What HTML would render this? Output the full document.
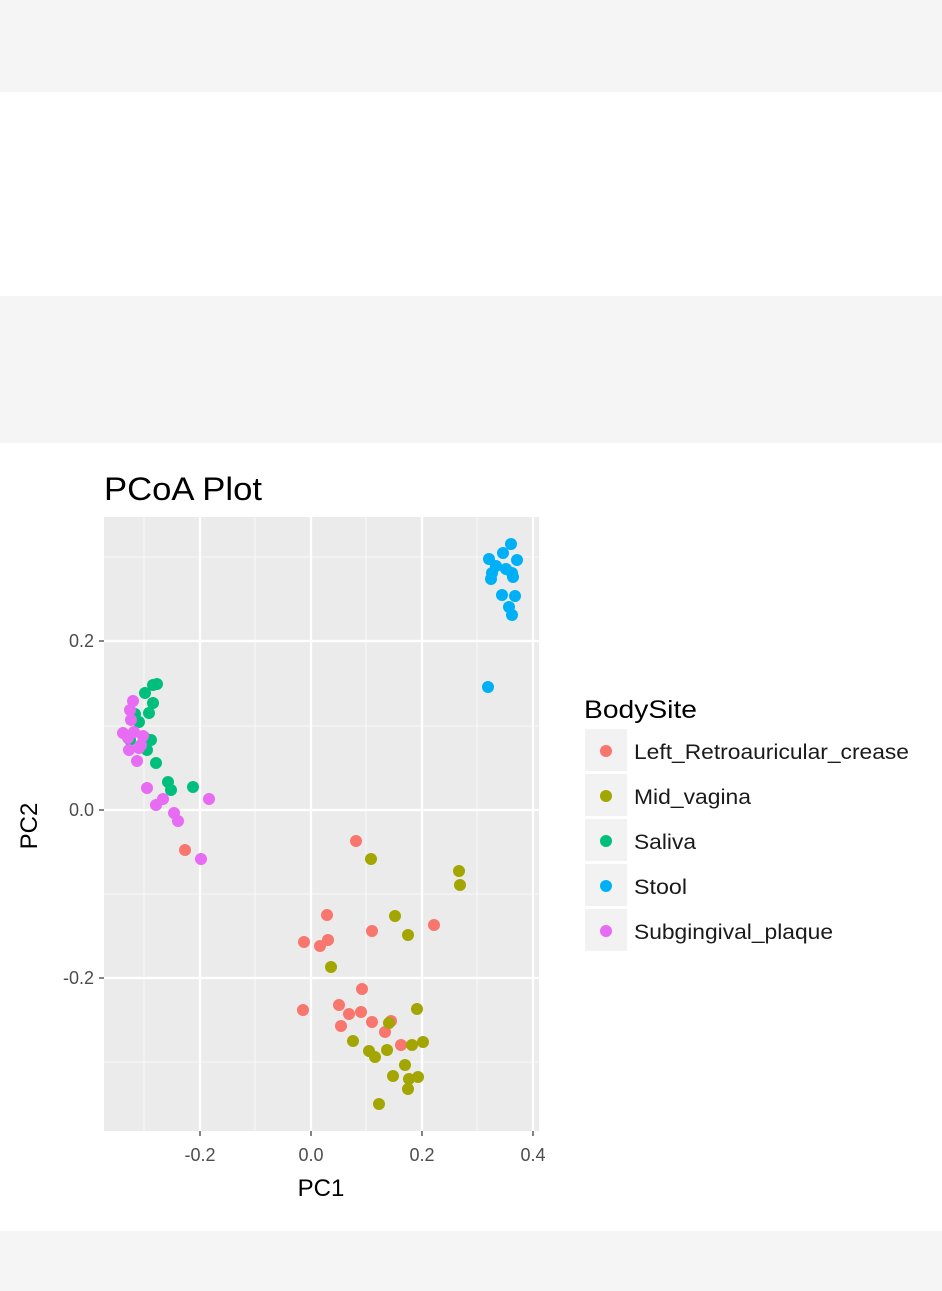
<!DOCTYPE html>
<html><head><meta charset="utf-8"><style>
html,body{margin:0;padding:0;background:#fff;}
svg{display:block;font-family:"Liberation Sans",Arial,sans-serif;}
</style></head><body>
<svg width="942" height="1291" viewBox="0 0 942 1291" xmlns="http://www.w3.org/2000/svg">
<rect x="0" y="0" width="942" height="92" fill="#f5f5f5"/>
<rect x="0" y="296" width="942" height="147" fill="#f5f5f5"/>
<rect x="0" y="1231" width="942" height="60" fill="#f5f5f5"/>
<text x="104" y="500" font-size="32" fill="#000" textLength="158" lengthAdjust="spacingAndGlyphs">PCoA Plot</text>
<rect x="104" y="517" width="435" height="614" fill="#ebebeb"/>
<g stroke="#f7f7f7" stroke-width="1.2">
<line x1="144" y1="517" x2="144" y2="1131"/><line x1="255" y1="517" x2="255" y2="1131"/>
<line x1="366" y1="517" x2="366" y2="1131"/><line x1="477" y1="517" x2="477" y2="1131"/>
<line x1="104" y1="557" x2="539" y2="557"/><line x1="104" y1="726" x2="539" y2="726"/>
<line x1="104" y1="894" x2="539" y2="894"/><line x1="104" y1="1062" x2="539" y2="1062"/>
</g>
<g stroke="#fff" stroke-width="2.3">
<line x1="200" y1="517" x2="200" y2="1131"/><line x1="311" y1="517" x2="311" y2="1131"/>
<line x1="422" y1="517" x2="422" y2="1131"/><line x1="533" y1="517" x2="533" y2="1131"/>
<line x1="104" y1="641" x2="539" y2="641"/><line x1="104" y1="810" x2="539" y2="810"/>
<line x1="104" y1="978" x2="539" y2="978"/>
</g>
<g stroke="#333" stroke-width="1.2">
<line x1="200" y1="1131" x2="200" y2="1136"/><line x1="311" y1="1131" x2="311" y2="1136"/>
<line x1="422" y1="1131" x2="422" y2="1136"/><line x1="533" y1="1131" x2="533" y2="1136"/>
<line x1="99" y1="641" x2="104" y2="641"/><line x1="99" y1="810" x2="104" y2="810"/><line x1="99" y1="978" x2="104" y2="978"/>
</g>
<g font-size="18" fill="#4d4d4d">
<text x="200" y="1161" text-anchor="middle">-0.2</text>
<text x="311" y="1161" text-anchor="middle">0.0</text>
<text x="422" y="1161" text-anchor="middle">0.2</text>
<text x="533" y="1161" text-anchor="middle">0.4</text>
<text x="94" y="647" text-anchor="end">0.2</text>
<text x="94" y="816" text-anchor="end">0.0</text>
<text x="94" y="984" text-anchor="end">-0.2</text>
</g>
<text x="321" y="1196" font-size="24" text-anchor="middle">PC1</text>
<text x="0" y="0" font-size="24" text-anchor="middle" transform="translate(37,826) rotate(-90)">PC2</text>
<g fill="#F8766D">
<circle cx="356" cy="841" r="6"/><circle cx="327" cy="915" r="6"/><circle cx="304" cy="942" r="6"/><circle cx="320" cy="946" r="6"/><circle cx="328" cy="940" r="6"/><circle cx="372" cy="931" r="6"/><circle cx="434" cy="925" r="6"/><circle cx="362" cy="989" r="6"/><circle cx="303" cy="1010" r="6"/><circle cx="339" cy="1005" r="6"/><circle cx="349" cy="1014" r="6"/><circle cx="361" cy="1012" r="6"/><circle cx="341" cy="1026" r="6"/><circle cx="372" cy="1022" r="6"/><circle cx="391" cy="1021" r="6"/><circle cx="385" cy="1032" r="6"/><circle cx="401" cy="1045" r="6"/><circle cx="185" cy="850" r="6"/>
</g>
<g fill="#A3A500">
<circle cx="371" cy="859" r="6"/><circle cx="459" cy="871" r="6"/><circle cx="460" cy="885" r="6"/><circle cx="395" cy="916" r="6"/><circle cx="408" cy="935" r="6"/><circle cx="331" cy="967" r="6"/><circle cx="417" cy="1009" r="6"/><circle cx="389" cy="1023" r="6"/><circle cx="353" cy="1041" r="6"/><circle cx="369" cy="1051" r="6"/><circle cx="375" cy="1057" r="6"/><circle cx="387" cy="1050" r="6"/><circle cx="412" cy="1045" r="6"/><circle cx="423" cy="1042" r="6"/><circle cx="405" cy="1065" r="6"/><circle cx="393" cy="1076" r="6"/><circle cx="409" cy="1079" r="6"/><circle cx="418" cy="1077" r="6"/><circle cx="408" cy="1089" r="6"/><circle cx="379" cy="1104" r="6"/>
</g>
<g fill="#00BF7D">
<circle cx="157" cy="684" r="6"/><circle cx="153" cy="685" r="6"/><circle cx="145" cy="693" r="6"/><circle cx="153" cy="703" r="6"/><circle cx="149" cy="713" r="6"/><circle cx="135" cy="714" r="6"/><circle cx="139" cy="722" r="6"/><circle cx="130" cy="740" r="6"/><circle cx="151" cy="740" r="6"/><circle cx="147" cy="750" r="6"/><circle cx="156" cy="763" r="6"/><circle cx="168" cy="782" r="6"/><circle cx="171" cy="790" r="6"/><circle cx="193" cy="787" r="6"/><circle cx="144" cy="737" r="6"/>
</g>
<g fill="#E76BF3">
<circle cx="133" cy="701" r="6"/><circle cx="130" cy="710" r="6"/><circle cx="123" cy="733" r="6"/><circle cx="134" cy="732" r="6"/><circle cx="143" cy="736" r="6"/><circle cx="129" cy="750" r="6"/><circle cx="139" cy="748" r="6"/><circle cx="137" cy="761" r="6"/><circle cx="147" cy="788" r="6"/><circle cx="163" cy="799" r="6"/><circle cx="156" cy="805" r="6"/><circle cx="209" cy="799" r="6"/><circle cx="174" cy="813" r="6"/><circle cx="178" cy="821" r="6"/><circle cx="201" cy="859" r="6"/><circle cx="131" cy="720" r="6"/><circle cx="128" cy="738" r="6"/><circle cx="141" cy="745" r="6"/>
</g>
<g fill="#00B0F6">
<circle cx="511" cy="544" r="6"/><circle cx="503" cy="553" r="6"/><circle cx="489" cy="559" r="6"/><circle cx="517" cy="560" r="6"/><circle cx="492" cy="573" r="6"/><circle cx="506" cy="569" r="6"/><circle cx="512" cy="573" r="6"/><circle cx="513" cy="577" r="6"/><circle cx="491" cy="579" r="6"/><circle cx="502" cy="595" r="6"/><circle cx="515" cy="596" r="6"/><circle cx="509" cy="607" r="6"/><circle cx="512" cy="615" r="6"/><circle cx="488" cy="687" r="6"/><circle cx="496" cy="566" r="6"/>
</g>
<text x="584" y="718" font-size="25" textLength="113" lengthAdjust="spacingAndGlyphs">BodySite</text>
<g fill="#f2f2f2">
<rect x="585" y="729" width="42" height="42"/><rect x="585" y="774" width="42" height="42"/><rect x="585" y="819" width="42" height="42"/><rect x="585" y="864" width="42" height="42"/><rect x="585" y="909" width="42" height="42"/>
</g>
<circle cx="606" cy="751" r="6" fill="#F8766D"/>
<circle cx="606" cy="796" r="6" fill="#A3A500"/>
<circle cx="606" cy="841" r="6" fill="#00BF7D"/>
<circle cx="606" cy="886" r="6" fill="#00B0F6"/>
<circle cx="606" cy="931" r="6" fill="#E76BF3"/>
<g font-size="21" fill="#1a1a1a">
<text x="634" y="759" textLength="275" lengthAdjust="spacingAndGlyphs">Left_Retroauricular_crease</text>
<text x="634" y="804" textLength="117" lengthAdjust="spacingAndGlyphs">Mid_vagina</text>
<text x="634" y="849" textLength="62" lengthAdjust="spacingAndGlyphs">Saliva</text>
<text x="634" y="894" textLength="53" lengthAdjust="spacingAndGlyphs">Stool</text>
<text x="634" y="939" textLength="199" lengthAdjust="spacingAndGlyphs">Subgingival_plaque</text>
</g>
</svg>
</body></html>
